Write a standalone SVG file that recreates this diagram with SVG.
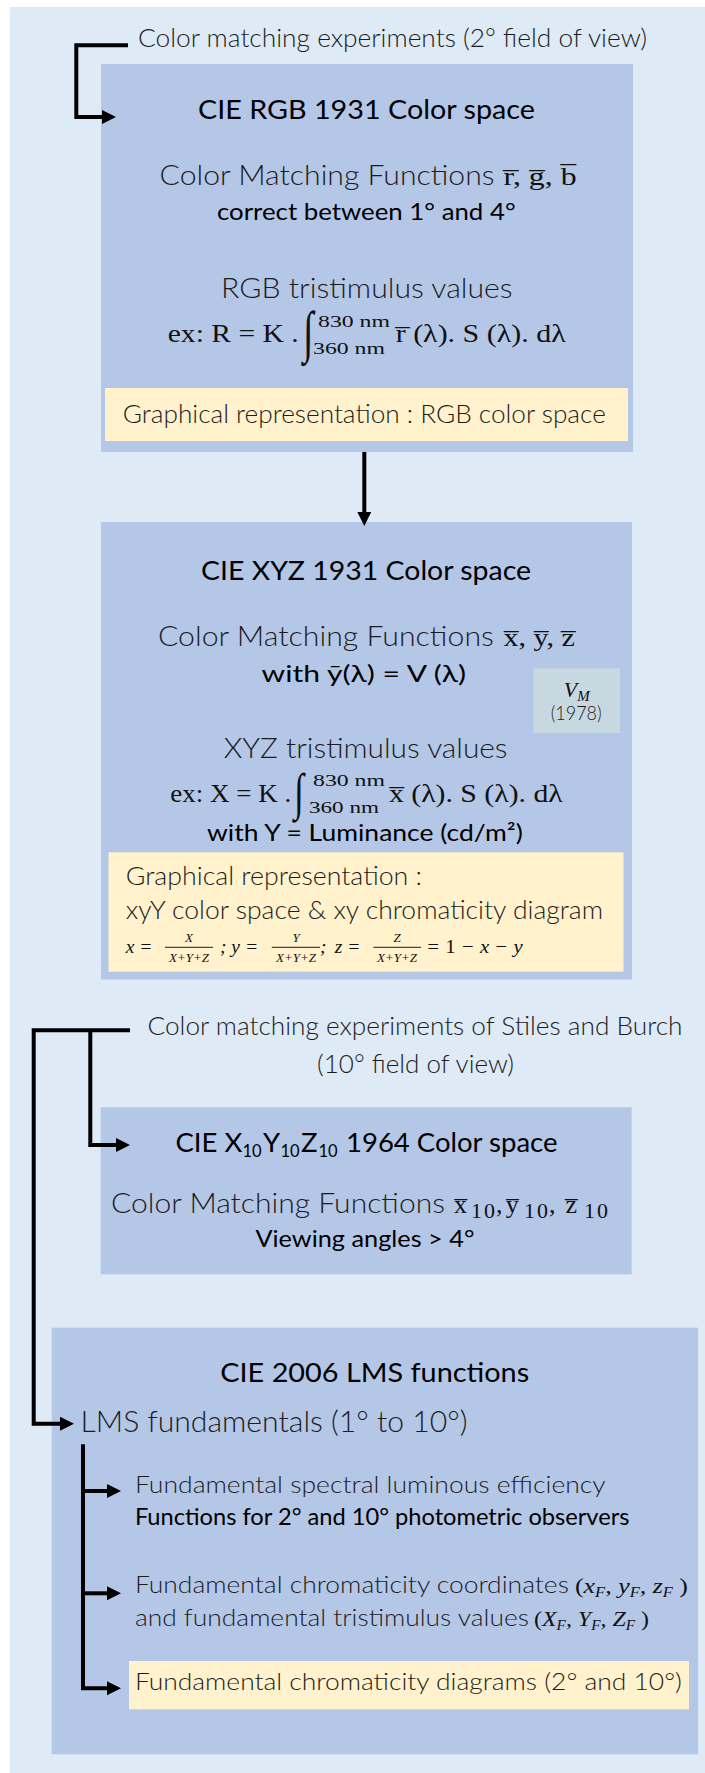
<svg xmlns="http://www.w3.org/2000/svg" width="705" height="1773" viewBox="0 0 705 1773">
<style>
.bg{fill:#DEEAF6}
.box{fill:#B4C7E7}
.yel{fill:#FFF2CC}
.vm{fill:#C8D8E0}
.t{font-family:Lato,"Open Sans","Liberation Sans",sans-serif;font-weight:300;fill:#1c1c1c}
.h{font-family:Lato,"Open Sans","Liberation Sans",sans-serif;font-weight:400;fill:#000}
.b{font-family:Lato,"Open Sans","Liberation Sans",sans-serif;font-weight:400;fill:#000}
.m{font-family:"Liberation Serif","DejaVu Serif",serif;fill:#111}
.mi{font-family:"Liberation Serif","DejaVu Serif",serif;font-style:italic;fill:#111}
.ln{fill:none;stroke:#000;stroke-width:4;stroke-linejoin:miter}
.fb{stroke:#1a1a1a;stroke-width:1}
</style>
<defs>
<marker id="ah" markerUnits="userSpaceOnUse" markerWidth="16" markerHeight="16" refX="1" refY="7" orient="auto">
<path d="M0,0 L14,7 L0,14 Z" fill="#000"/>
</marker>
</defs>
<rect class="bg" x="10" y="7" width="695" height="1766"/>

<g id="label-2deg">
<text class="t" x="138" y="46.7" font-size="25.5" textLength="509" lengthAdjust="spacingAndGlyphs">Color matching experiments (2° field of view)</text>
</g>

<g id="node-rgb">
<rect class="box" x="101" y="64" width="532" height="388"/>
<text class="h" x="198" y="119.3" font-size="27.5" textLength="337" lengthAdjust="spacingAndGlyphs">CIE RGB 1931 Color space</text>
<text class="t" x="159.6" y="185.3" font-size="26.5" textLength="335" lengthAdjust="spacingAndGlyphs">Color Matching Functions</text>
<text class="m" x="503.6" y="185.3" font-size="26" textLength="73" lengthAdjust="spacingAndGlyphs">r&#x0305;, g&#x0305;, b&#x0305;</text>
<text class="b" x="217" y="220" font-size="23" textLength="298.6" lengthAdjust="spacingAndGlyphs">correct between 1° and 4°</text>
<text class="t" x="221" y="298.3" font-size="26.5" textLength="291.6" lengthAdjust="spacingAndGlyphs">RGB tristimulus values</text>
<text class="m" x="167.7" y="341.7" font-size="25" textLength="131" lengthAdjust="spacingAndGlyphs">ex:  R = K .</text>
<text class="m" font-size="38" transform="translate(303,351) scale(1,1.5)">∫</text>
<text class="m" x="318" y="326.7" font-size="17" textLength="72" lengthAdjust="spacingAndGlyphs">830 nm</text>
<text class="m" x="313" y="354" font-size="17" textLength="72" lengthAdjust="spacingAndGlyphs">360 nm</text>
<text class="m" x="395.7" y="341.7" font-size="25" textLength="170" lengthAdjust="spacingAndGlyphs">r&#x0305; (λ). S (λ). dλ</text>
<rect class="yel" x="105" y="388" width="523" height="53"/>
<text class="t" x="122.8" y="423.3" font-size="25.5" textLength="483" lengthAdjust="spacingAndGlyphs">Graphical representation : RGB color space</text>
</g>

<g id="node-xyz">
<rect class="box" x="101" y="522" width="531" height="457.5"/>
<text class="h" x="201" y="580" font-size="27.5" textLength="330" lengthAdjust="spacingAndGlyphs">CIE XYZ 1931 Color space</text>
<text class="t" x="157.9" y="645.7" font-size="26.5" textLength="336" lengthAdjust="spacingAndGlyphs">Color Matching Functions</text>
<text class="m" x="503.4" y="645.7" font-size="26" textLength="71.6" lengthAdjust="spacingAndGlyphs">x&#x0305;, y&#x0305;, z&#x0305;</text>
<text class="b" x="261.6" y="681.7" font-size="23" textLength="204.4" lengthAdjust="spacingAndGlyphs">with y&#x0304;(λ) = V (λ)</text>
<text class="t" x="223.7" y="758.3" font-size="26.5" textLength="283.9" lengthAdjust="spacingAndGlyphs">XYZ tristimulus values</text>
<text class="m" x="170.2" y="801.7" font-size="25" textLength="121" lengthAdjust="spacingAndGlyphs">ex: X = K .</text>
<text class="m" font-size="36" transform="translate(294,809) scale(1,1.42)">∫</text>
<text class="m" x="313" y="786" font-size="17" textLength="72" lengthAdjust="spacingAndGlyphs">830 nm</text>
<text class="m" x="309" y="813" font-size="17" textLength="70" lengthAdjust="spacingAndGlyphs">360 nm</text>
<text class="m" x="389" y="801.7" font-size="25" textLength="173.7" lengthAdjust="spacingAndGlyphs">x&#x0305; (λ). S (λ). dλ</text>
<text class="b" x="207" y="841" font-size="23" textLength="315.8" lengthAdjust="spacingAndGlyphs">with Y = Luminance (cd/m²)</text>
<rect class="yel" x="108.5" y="852.3" width="515" height="119.4"/>
<text class="t" x="125.8" y="885" font-size="25.5" textLength="296.2" lengthAdjust="spacingAndGlyphs">Graphical representation :</text>
<text class="t" x="125.8" y="919.3" font-size="25.5" textLength="477.2" lengthAdjust="spacingAndGlyphs">xyY color space &amp; xy chromaticity diagram</text>
<text class="mi" x="125.8" y="952.7" font-size="19.5">x =</text>
<text class="mi" x="189" y="941.7" font-size="13" text-anchor="middle">X</text>
<line class="fb" x1="165" y1="947.3" x2="213" y2="947.3"/>
<text class="mi" x="189" y="961.7" font-size="13" text-anchor="middle">X+Y+Z</text>
<text class="mi" x="220" y="952.7" font-size="19.5">; y =</text>
<text class="mi" x="296" y="941.7" font-size="13" text-anchor="middle">Y</text>
<line class="fb" x1="271.8" y1="947.3" x2="320" y2="947.3"/>
<text class="mi" x="296" y="961.7" font-size="13" text-anchor="middle">X+Y+Z</text>
<text class="mi" x="320" y="952.7" font-size="19.5">;</text>
<text class="mi" x="334.8" y="952.7" font-size="19.5">z =</text>
<text class="mi" x="397" y="941.7" font-size="13" text-anchor="middle">Z</text>
<line class="fb" x1="373.4" y1="947.3" x2="421" y2="947.3"/>
<text class="mi" x="397" y="961.7" font-size="13" text-anchor="middle">X+Y+Z</text>
<text class="mi" x="426" y="952.7" font-size="19.5" textLength="96.8" lengthAdjust="spacingAndGlyphs">= <tspan font-style="normal">1</tspan> − x − y</text>
</g>

<g id="node-vm">
<rect class="vm" x="533.3" y="668.3" width="86.7" height="64.7"/>
<text class="mi" x="576.7" y="697" font-size="22" text-anchor="middle">V<tspan font-size="15" dy="4">M</tspan></text>
<text class="t" x="550.7" y="720" font-size="19.5" textLength="51" lengthAdjust="spacingAndGlyphs">(1978)</text>
</g>

<g id="label-10deg">
<text class="t" x="147.5" y="1035" font-size="25.5" textLength="535" lengthAdjust="spacingAndGlyphs">Color matching experiments of Stiles and Burch</text>
<text class="t" x="317" y="1073.3" font-size="25.5" textLength="197" lengthAdjust="spacingAndGlyphs">(10° field of view)</text>
</g>

<g id="node-x10">
<rect class="box" x="100.7" y="1107.3" width="531" height="167"/>
<text class="h" font-size="27.5">
<tspan x="175.4" y="1151.7">CIE X</tspan><tspan x="242.5" y="1157" font-size="16.5">10</tspan><tspan x="263" y="1151.7">Y</tspan><tspan x="280.5" y="1157" font-size="16.5">10</tspan><tspan x="301" y="1151.7">Z</tspan><tspan x="318.5" y="1157" font-size="16.5">10</tspan><tspan x="346" y="1151.7">1964 Color space</tspan>
</text>
<text class="t" x="111" y="1213.3" font-size="26.5" textLength="334" lengthAdjust="spacingAndGlyphs">Color Matching Functions</text>
<text class="m" font-size="26">
<tspan x="454" y="1213.3">x&#x0305;</tspan><tspan x="471" y="1218.3" font-size="22" letter-spacing="2">10</tspan><tspan x="496" y="1213.3">,</tspan><tspan x="505.8" y="1213.3">y&#x0305;</tspan><tspan x="524" y="1218.3" font-size="22" letter-spacing="2">10</tspan><tspan x="549" y="1213.3">,</tspan><tspan x="565.6" y="1213.3">z&#x0305;</tspan><tspan x="584" y="1218.3" font-size="22" letter-spacing="2">10</tspan>
</text>
<text class="b" x="255.4" y="1246.7" font-size="23" textLength="219" lengthAdjust="spacingAndGlyphs">Viewing angles &gt; 4°</text>
</g>

<g id="node-lms">
<rect class="box" x="51.7" y="1327.7" width="646.5" height="426.6"/>
<text class="h" x="220.3" y="1381.7" font-size="27.5" textLength="308.9" lengthAdjust="spacingAndGlyphs">CIE 2006 LMS functions</text>
<text class="t" x="80.5" y="1432" font-size="28.5" textLength="387" lengthAdjust="spacingAndGlyphs">LMS fundamentals (1° to 10°)</text>
<text class="t" x="134.9" y="1493.3" font-size="24" textLength="470.8" lengthAdjust="spacingAndGlyphs">Fundamental spectral luminous efficiency</text>
<text class="b" x="134.9" y="1525" font-size="23" textLength="494.6" lengthAdjust="spacingAndGlyphs">Functions for 2° and 10° photometric observers</text>
<text class="t" x="134.9" y="1592.7" font-size="24" textLength="434" lengthAdjust="spacingAndGlyphs">Fundamental chromaticity coordinates</text>
<text class="mi" x="575" y="1592.7" font-size="22" textLength="113" lengthAdjust="spacingAndGlyphs"><tspan font-style="normal">(</tspan>x<tspan font-size="14" dy="4">F</tspan><tspan dy="-4">, y</tspan><tspan font-size="14" dy="4">F</tspan><tspan dy="-4">, z</tspan><tspan font-size="14" dy="4">F</tspan><tspan dy="-4" font-style="normal"> )</tspan></text>
<text class="t" x="134.9" y="1626" font-size="24" textLength="394" lengthAdjust="spacingAndGlyphs">and fundamental tristimulus values</text>
<text class="mi" x="534" y="1626" font-size="22" textLength="115" lengthAdjust="spacingAndGlyphs"><tspan font-style="normal">(</tspan>X<tspan font-size="14" dy="4">F</tspan><tspan dy="-4">, Y</tspan><tspan font-size="14" dy="4">F</tspan><tspan dy="-4">, Z</tspan><tspan font-size="14" dy="4">F</tspan><tspan dy="-4" font-style="normal"> )</tspan></text>
<rect class="yel" x="129" y="1661" width="560" height="48.3"/>
<text class="t" x="134.9" y="1690" font-size="24" textLength="547" lengthAdjust="spacingAndGlyphs">Fundamental chromaticity diagrams (2° and 10°)</text>
</g>

<g id="connectors">
<path class="ln" d="M128,45.3 H76.3 V117 H103" marker-end="url(#ah)"/>
<path class="ln" d="M364.3,452 V513" marker-end="url(#ah)"/>
<path class="ln" d="M130,1030.3 H33.7 V1423.7 H61" marker-end="url(#ah)"/>
<path class="ln" d="M90.3,1030.3 V1145 H117" marker-end="url(#ah)"/>
<path class="ln" d="M83,1444.3 V1688.3 H108" marker-end="url(#ah)"/>
<path class="ln" d="M83,1491 H108" marker-end="url(#ah)"/>
<path class="ln" d="M83,1593.3 H108" marker-end="url(#ah)"/>
</g>
</svg>
